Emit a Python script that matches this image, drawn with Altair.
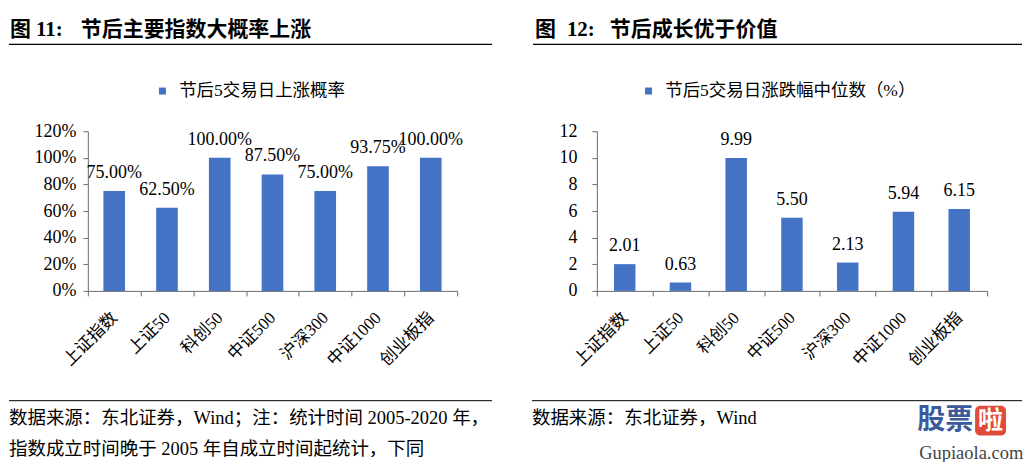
import altair as alt
import pandas as pd

# ---------------- data ----------------
cats = ["上证指数", "上证50", "科创50", "中证500", "沪深300", "中证1000", "创业板指"]
up_prob = [75.00, 62.50, 100.00, 87.50, 75.00, 93.75, 100.00]          # %
median_ret = [2.01, 0.63, 9.99, 5.50, 2.13, 5.94, 6.15]                  # %
series_left = "节后5交易日上涨概率"
series_right = "节后5交易日涨跌幅中位数（%）"
left_ticks = [0, 20, 40, 60, 80, 100, 120]
right_ticks = [0, 2, 4, 6, 8, 10, 12]
title_left = ["图", "11:", "节后主要指数大概率上涨"]
title_right = ["图", "12:", "节后成长优于价值"]
source_left = ["数据来源：东北证券，Wind；注：统计时间 2005-2020 年，",
               "指数成立时间晚于 2005 年自成立时间起统计，下同"]
source_right = ["数据来源：东北证券，Wind"]
watermark = ["股票", "啦", "Gupiaola.com"]

# ---------------- style ----------------
BLUE = "#4472C4"
AX = "#6b6b6b"
SERIF = "Liberation Serif, Noto Sans CJK SC"
ONE = alt.Data(values=[{}])


def txt(text, x, y, size, bold=False, font=SERIF, color="#000", align="left"):
    return alt.Chart(ONE).mark_text(
        text=text, align=align, baseline="middle", font=font, fontSize=size,
        fontWeight="bold" if bold else "normal", color=color
    ).encode(x=alt.value(x), y=alt.value(y))


def hrule(x1, x2, y, w=1.0, color="#000"):
    return alt.Chart(ONE).mark_rule(color=color, strokeWidth=w).encode(
        x=alt.value(x1), x2=alt.value(x2), y=alt.value(y))


def bar_panel(values, series, ticks, label_expr, value_fmt, band, ylab_pad,
              legend_x):
    df = pd.DataFrame({"cat": cats, "v": values, "series": series})
    x = alt.X("cat:N", sort=cats,
              scale=alt.Scale(paddingInner=0, paddingOuter=0),
              axis=alt.Axis(title=None, labelAngle=-45, labelAlign="right",
                            labelBaseline="middle", labelFont=SERIF,
                            labelFontSize=17, labelColor="#000",
                            labelPadding=19, tickBand="extent", tickSize=5,
                            tickColor=AX, domainColor=AX, labelOverlap=False))
    y = alt.Y("v:Q", scale=alt.Scale(domain=[ticks[0], ticks[-1]], nice=False),
              axis=alt.Axis(title=None, values=ticks, labelExpr=label_expr,
                            grid=False, tickSize=5, labelFont="Liberation Serif",
                            labelFontSize=18, labelPadding=ylab_pad,
                            labelOverlap=False, labelBound=False,
                            labelFlush=False, tickCount=len(ticks),
                            domainColor=AX, tickColor=AX, labelColor="#000"))
    bars = alt.Chart(df).mark_bar(width=alt.RelativeBandSize(band)).encode(
        x=x, y=y,
        color=alt.Color("series:N", scale=alt.Scale(range=[BLUE]),
                        legend=alt.Legend(title=None, orient="none",
                                          legendX=legend_x, legendY=-49,
                                          symbolType="square", symbolSize=49,
                                          symbolStrokeWidth=0, labelFont=SERIF,
                                          labelFontSize=17.5, labelOffset=8,
                                          padding=0, labelColor="#000",
                                          labelLimit=400)))
    labels = alt.Chart(df).transform_calculate(lbl=value_fmt).mark_text(
        dy=-18, font="Liberation Serif", fontSize=18, color="#000",
        baseline="middle").encode(x=x, y=y, text="lbl:N")
    return bars, labels


# left panel: plot origin at (87,130) in page coordinates
lb, ll = bar_panel(up_prob, series_left, left_ticks, "datum.value + '%'",
                   "format(datum.v, '.2f') + '%'", 0.41, 7, 66)
left = alt.layer(
    hrule(-79, -70, -122, 1, "#ffffff"),
    txt(title_left[0], -78, -101, 21, bold=True),
    txt(title_left[1], -52, -101, 21, bold=True),
    txt(title_left[2], -7, -101, 21, bold=True),
    hrule(-79, 405, -87, 1.5),
    lb, ll,
    hrule(-79, 405, 270, 1),
    txt(source_left[0], -79, 287, 18.5),
    txt(source_left[1], -79, 318, 18.5),
).properties(width=370, height=160)

# right panel: plot origin at (597,130)
rb, rl = bar_panel(median_ret, series_right, right_ticks, "datum.value",
                   "format(datum.v, '.2f')", 0.385, 15, 43)
right = alt.layer(
    txt(title_right[0], -62, -101, 21, bold=True),
    txt(title_right[1], -30, -101, 21, bold=True),
    txt(title_right[2], 13, -101, 21, bold=True),
    hrule(-64, 426, -87, 1.5),
    rb, rl,
    hrule(-65, 426, 270, 1),
    txt(source_right[0], -65, 287, 18.5),
    # watermark
    txt(watermark[0], 321, 290, 28, bold=True, font="Noto Sans CJK SC", color="#3A5A9B"),
    alt.Chart(ONE).mark_rect(color="#E04B3A", cornerRadius=5).encode(
        x=alt.value(379), x2=alt.value(410), y=alt.value(275), y2=alt.value(305)),
    txt(watermark[1], 394.5, 290.5, 25, bold=True, font="Noto Sans CJK SC",
        color="#ffffff", align="center"),
    txt(watermark[2], 323, 322, 18.5, font="Liberation Serif", color="#444444"),
).properties(width=391, height=160)

chart = alt.hconcat(left, right, spacing=140, bounds="flush").resolve_scale(
    color="independent", x="independent", y="independent"
).resolve_legend(color="independent").properties(
    padding=0, background="#ffffff"
).configure_view(stroke=None)

chart.save("out.html", embed_options={"renderer": "svg", "actions": False})
